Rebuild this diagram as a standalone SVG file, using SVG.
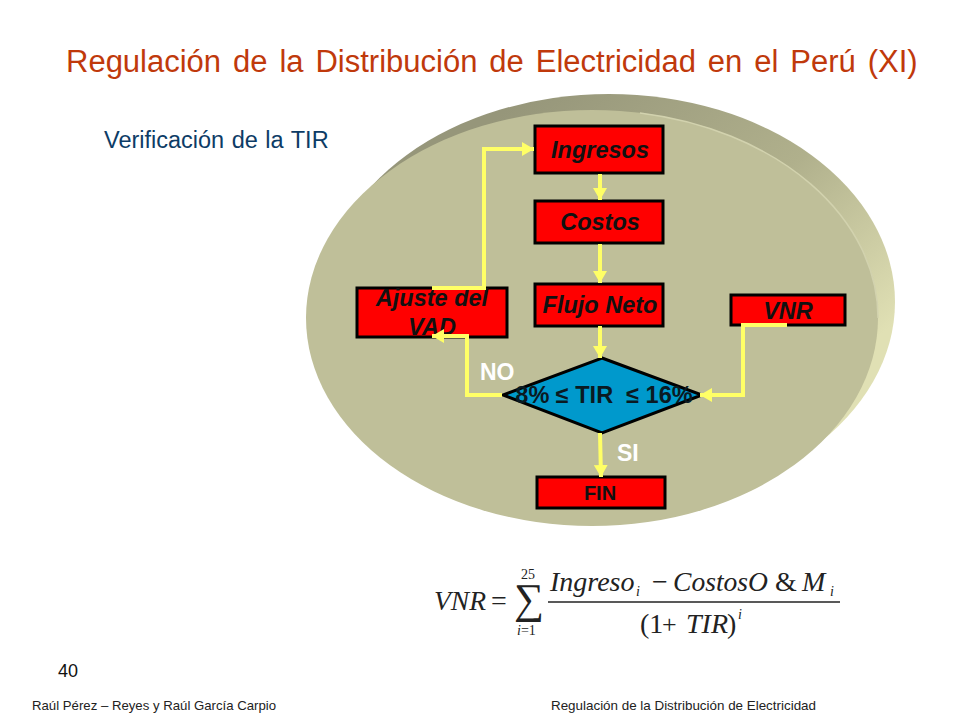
<svg xmlns="http://www.w3.org/2000/svg" width="960" height="720" viewBox="0 0 960 720">
<style>
.s{font-family:"Liberation Sans",Arial,sans-serif}
.f{font-family:"Liberation Serif","Times New Roman",serif;fill:#222}
.i{font-style:italic}
.box{fill:#ff0000;stroke:#000;stroke-width:3}
.lbl{font-family:"Liberation Sans",Arial,sans-serif;font-weight:bold;font-style:italic;font-size:23.5px;fill:#111;text-anchor:middle}
.wl{font-family:"Liberation Sans",Arial,sans-serif;font-weight:bold;font-size:23px;fill:#fff}
.c{fill:none;stroke:#ffff66;stroke-width:4}
</style>
<defs>
<linearGradient id="rim" x1="0.35" y1="0" x2="1" y2="0.55">
<stop offset="0" stop-color="#96967a"/><stop offset="0.55" stop-color="#b0b08c"/><stop offset="1" stop-color="#e0e0b4"/>
</linearGradient>
<marker id="a" markerUnits="userSpaceOnUse" markerWidth="14" markerHeight="14" refX="12" refY="7" orient="auto"><path d="M0 0L12 7L0 14Z" fill="#ffff66"/></marker>
</defs>
<rect width="960" height="720" fill="#fff"/>
<text class="s" x="66" y="72" font-size="31" word-spacing="3.3" fill="#c0390b">Regulación de la Distribución de Electricidad en el Perú (XI)</text>
<text class="s" x="104" y="148" font-size="23.5" word-spacing="1" fill="#0d3c66">Verificación de la TIR</text>
<g id="disc">
<ellipse cx="609" cy="302" rx="286" ry="208" fill="url(#rim)"/>
<ellipse cx="592" cy="318" rx="286" ry="208" fill="#bfbf99"/>
<path d="M640 113A286 208 0 0 1 878 318" fill="none" stroke="#d2d2ae" stroke-width="1.5"/>
</g>
<g id="ajuste"><rect class="box" x="357" y="288" width="150" height="49"/>
<text class="lbl" x="432" y="306">Ajuste del</text><text class="lbl" x="432" y="335">VAD</text></g>
<g id="ingresos"><rect class="box" x="535" y="126" width="128" height="47"/><text class="lbl" x="600" y="158">Ingresos</text></g>
<g id="costos"><rect class="box" x="535" y="201" width="128" height="42"/><text class="lbl" x="600" y="230">Costos</text></g>
<g id="flujo"><rect class="box" x="535" y="284" width="128" height="42"/><text class="lbl" x="600" y="313">Flujo Neto</text></g>
<g id="vnr"><rect class="box" x="731" y="295" width="114" height="30"/><text class="lbl" x="788" y="319">VNR</text></g>
<g id="fin"><rect class="box" x="537" y="477" width="128" height="31"/><text x="600" y="500" text-anchor="middle" class="s" font-weight="bold" font-size="20" fill="#111">FIN</text></g>
<g id="decision"><path d="M602 358L702 395L602 433L503 395Z" fill="#0099cc" stroke="#000" stroke-width="3"/>
<text x="604" y="403" text-anchor="middle" class="s" font-weight="bold" font-size="23.5" fill="#0a1a22" xml:space="preserve">8% ≤ TIR  ≤ 16%</text></g>
<g id="connectors">
<path class="c" d="M432 288H484V149H534" marker-end="url(#a)"/>
<path class="c" d="M600 174V200" marker-end="url(#a)"/>
<path class="c" d="M600 244V283" marker-end="url(#a)"/>
<path class="c" d="M600 326V358" marker-end="url(#a)"/>
<path class="c" d="M502 395H467V336H432" marker-end="url(#a)"/>
<path class="c" d="M787 325H743V395H700" marker-end="url(#a)"/>
<path class="c" d="M600 433L601 477" marker-end="url(#a)"/>
</g>
<text class="wl" x="480" y="380">NO</text>
<text class="wl" x="617" y="461">SI</text>
<g id="formula">
<text class="f i" x="434" y="610" font-size="28" textLength="52" lengthAdjust="spacingAndGlyphs">VNR</text>
<text class="f" x="491" y="610" font-size="28">=</text>
<text class="f" x="514" y="613" font-size="42">∑</text>
<text class="f" x="521" y="579" font-size="14">25</text>
<text class="f" x="517" y="635" font-size="14"><tspan class="i">i</tspan>=1</text>
<text class="f i" x="550" y="591" font-size="28">Ingreso</text>
<text class="f i" x="636" y="596" font-size="14">i</text>
<text class="f" x="652" y="591" font-size="28">−</text>
<text class="f i" x="673" y="591" font-size="28" textLength="95" lengthAdjust="spacingAndGlyphs">CostosO</text>
<text class="f" x="775" y="591" font-size="28">&amp;</text>
<text class="f i" x="802" y="591" font-size="28">M</text>
<text class="f i" x="830" y="596" font-size="14">i</text>
<path d="M548 602H840" stroke="#222" stroke-width="1.3"/>
<text class="f" x="640" y="633" font-size="28">(1</text>
<text class="f" x="662" y="633" font-size="26">+</text>
<text class="f i" x="686" y="633" font-size="28">TIR</text>
<text class="f" x="727" y="633" font-size="28">)</text>
<text class="f i" x="738" y="619" font-size="14">i</text>
</g>
<text class="s" x="58" y="677" font-size="18" fill="#111">40</text>
<text class="s" x="32" y="710" font-size="13.2" fill="#222">Raúl Pérez – Reyes y Raúl García Carpio</text>
<text class="s" x="551" y="710" font-size="13.4" fill="#222">Regulación de la Distribución de Electricidad</text>
</svg>
